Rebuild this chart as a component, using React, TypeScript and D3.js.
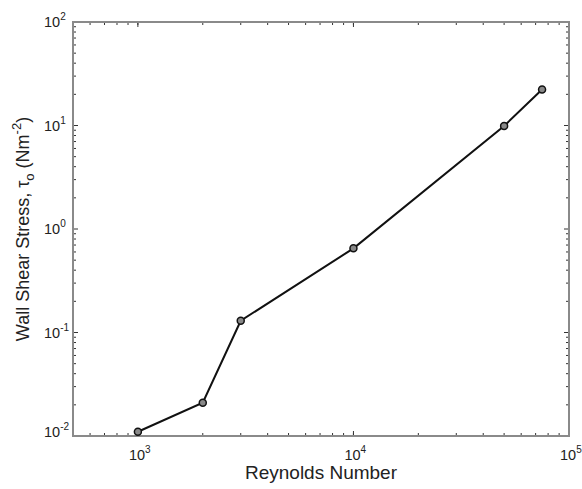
import React from "react";
import * as d3 from "d3";

const reynolds = [1000, 2000, 3000, 10000, 50000, 75000];
const shearStress = [0.011, 0.021, 0.13, 0.65, 9.9, 22.3];
const xTickExps = [3, 4, 5];
const yTickExps = [-2, -1, 0, 1, 2];

const W = 582, H = 489;
const L = 73, R = 569, T = 22, B = 436;

export default function App() {
  const x = d3.scaleLog().domain([500, 1e5]).range([L, R]);
  const y = d3.scaleLog().domain([0.01, 100]).range([B, T]);
  const line = d3.line<number>().x((_, i) => x(reynolds[i])).y((d) => y(d));

  const xMinor: number[] = [];
  for (let e = 2; e <= 4; e++) for (let m = 1; m <= 9; m++) {
    const v = m * Math.pow(10, e);
    if (v >= 500 && v <= 1e5) xMinor.push(v);
  }
  const yMinor: number[] = [];
  for (let e = -2; e <= 1; e++) for (let m = 2; m <= 9; m++) yMinor.push(m * Math.pow(10, e));

  const tickColor = "#333";
  const font = "Liberation Sans, Arial, sans-serif";
  return (
    <svg width={W} height={H} style={{ position: "absolute", left: 0, top: 0, background: "#fff" }}>
      <g stroke={tickColor} strokeWidth={1}>
        {xMinor.map((v, i) => (
          <g key={"xm" + i}>
            <line x1={x(v)} x2={x(v)} y1={B} y2={B - 3} />
            <line x1={x(v)} x2={x(v)} y1={T} y2={T + 3} />
          </g>
        ))}
        {xTickExps.map((e) => (
          <g key={"xM" + e}>
            <line x1={x(10 ** e)} x2={x(10 ** e)} y1={B} y2={B - 5} />
            <line x1={x(10 ** e)} x2={x(10 ** e)} y1={T} y2={T + 5} />
          </g>
        ))}
        {yMinor.map((v, i) => (
          <g key={"ym" + i}>
            <line x1={L} x2={L + 3} y1={y(v)} y2={y(v)} />
            <line x1={R} x2={R - 3} y1={y(v)} y2={y(v)} />
          </g>
        ))}
        {yTickExps.map((e) => (
          <g key={"yM" + e}>
            <line x1={L} x2={L + 5} y1={y(10 ** e)} y2={y(10 ** e)} />
            <line x1={R} x2={R - 5} y1={y(10 ** e)} y2={y(10 ** e)} />
          </g>
        ))}
      </g>
      <rect x={L} y={T} width={R - L} height={B - T} fill="none" stroke="#8a8a8a" strokeWidth={2} />
      <g fontFamily={font} fontSize={14.5} fill="#222">
        {xTickExps.map((e) => (
          <text key={"xl" + e} x={x(10 ** e) - 9} y={B + 24} textAnchor="start">
            10<tspan dy={-7} fontSize={10}>{e}</tspan>
          </text>
        ))}
        {yTickExps.map((e) => (
          <text key={"yl" + e} x={44} y={y(10 ** e) + 5 - (e === -2 ? 4 : 0)} textAnchor="start">
            10<tspan dy={-7} fontSize={10}>{e}</tspan>
          </text>
        ))}
        <text x={321} y={479} textAnchor="middle" fontSize={19}>Reynolds Number</text>
        <text transform={`translate(29, 229) rotate(-90)`} textAnchor="middle" fontSize={18}>
          Wall Shear Stress, τ<tspan dy={5} fontSize={13}>o</tspan>
          <tspan dy={-5}> (Nm</tspan>
          <tspan dy={-8} fontSize={13}>-2</tspan>
          <tspan dy={8}>)</tspan>
        </text>
      </g>
      <path d={line(shearStress) || ""} fill="none" stroke="#111" strokeWidth={2} />
      {shearStress.map((v, i) => (
        <circle key={i} cx={x(reynolds[i])} cy={y(v)} r={3.5} fill="#888" stroke="#111" strokeWidth={1.5} />
      ))}
    </svg>
  );
}
